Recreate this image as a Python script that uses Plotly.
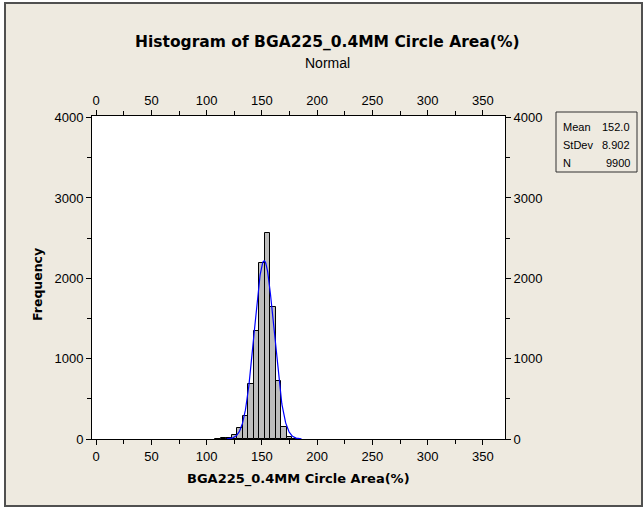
import numpy as np
import plotly.graph_objects as go

# ---- data ----
bin_mids = [110, 115, 120, 125, 130, 135, 140, 145, 150, 155, 160, 165, 170, 175, 180]
counts   = [3, 12, 18, 55, 140, 285, 690, 1340, 2190, 2560, 1645, 720, 145, 25, 3]
bin_width = 5
fit_mean = 152.0
fit_stdev = 8.902
fit_n = 9900
x_ticks = [0, 50, 100, 150, 200, 250, 300, 350]
y_ticks = [0, 1000, 2000, 3000, 4000]

title_text = "Histogram of BGA225_0.4MM Circle Area(%)"
subtitle_text = "Normal"
x_title = "BGA225_0.4MM Circle Area(%)"
y_title = "Frequency"
legend_rows = [("Mean", "152.0"), ("StDev", "8.902"), ("N", "9900")]

# fitted normal curve from the stated parameters
xc = np.linspace(fit_mean - 3.8 * fit_stdev, fit_mean + 3.8 * fit_stdev, 300)
yc = fit_n * bin_width / (fit_stdev * np.sqrt(2 * np.pi)) * np.exp(-0.5 * ((xc - fit_mean) / fit_stdev) ** 2)

W, H = 644, 508
ML, MR, MT, MB = 92, 139, 116, 69
PW, PH = W - ML - MR, H - MT - MB
BG = "#EEEAE0"
FONT = "Liberation Sans, Arial, sans-serif"
BFONT = "DejaVu Sans, Verdana, sans-serif"

def xp(px):
    return (px - ML) / PW

def yp(py):
    return (H - MB - py) / PH

XR = [-3.8, 370]
YR = [0, 4020]

fig = go.Figure()
fig.add_trace(go.Bar(x=bin_mids, y=counts, width=bin_width,
                     marker=dict(color="#BDBDBD", line=dict(color="black", width=1)),
                     hoverinfo="x+y"))
fig.add_trace(go.Scatter(x=xc, y=yc, mode="lines", line=dict(color="#0000FF", width=1.2)))
# invisible trace on the mirrored axes so that they are drawn
fig.add_trace(go.Scatter(x=[XR[0]], y=[YR[0]], xaxis="x2", yaxis="y2", mode="markers",
                         marker=dict(opacity=0), hoverinfo="skip"))

axis_common = dict(showgrid=False, zeroline=False, showline=True, linecolor="black", linewidth=1,
                   ticks="outside", ticklen=5, tickwidth=1, tickcolor="black",
                   tickfont=dict(family=FONT, size=13, color="black"))

fig.update_layout(
    width=W, height=H,
    margin=dict(l=ML, r=MR, t=MT, b=MB, pad=0),
    paper_bgcolor="white", plot_bgcolor="white",
    showlegend=False, bargap=0,
    xaxis=dict(range=XR, tickvals=x_ticks, **axis_common,
               minor=dict(ticks="outside", dtick=25, tick0=0, ticklen=4, tickcolor="black")),
    xaxis2=dict(range=XR, tickvals=x_ticks, overlaying="x", side="top", anchor="y", **axis_common,
                minor=dict(ticks="outside", dtick=25, tick0=0, ticklen=4, tickcolor="black")),
    yaxis=dict(range=YR, tickvals=y_ticks, **axis_common,
               minor=dict(ticks="outside", dtick=500, tick0=0, ticklen=4, tickcolor="black")),
    yaxis2=dict(range=YR, tickvals=y_ticks, overlaying="y", side="right", anchor="x", **axis_common,
                minor=dict(ticks="outside", dtick=500, tick0=0, ticklen=4, tickcolor="black")),
)

shapes = [
    dict(type="rect", xref="paper", yref="paper", x0=xp(5), x1=xp(642), y0=yp(506), y1=yp(3),
         fillcolor=BG, line=dict(color="#505050", width=2), layer="below"),
    dict(type="rect", xref="x domain", yref="y domain", x0=0, x1=1, y0=0, y1=1,
         fillcolor="white", line=dict(width=0), layer="below"),
    dict(type="rect", xref="paper", yref="paper", x0=xp(556), x1=xp(637), y0=yp(172), y1=yp(112),
         fillcolor=BG, line=dict(color="#303030", width=1), layer="above"),
]
fig.update_layout(shapes=shapes)

ann = []
ann.append(dict(text="<b>" + title_text + "</b>", x=xp(327), y=yp(42), xref="paper", yref="paper",
                showarrow=False, xanchor="center", yanchor="middle",
                font=dict(family=BFONT, size=15.5, color="black")))
ann.append(dict(text=subtitle_text, x=xp(327), y=yp(63), xref="paper", yref="paper",
                showarrow=False, xanchor="center", yanchor="middle",
                font=dict(family=FONT, size=14, color="black")))
ann.append(dict(text="<b>" + x_title + "</b>", x=xp(298), y=yp(479), xref="paper", yref="paper",
                showarrow=False, xanchor="center", yanchor="middle",
                font=dict(family=BFONT, size=13, color="black")))
ann.append(dict(text="<b>" + y_title + "</b>", x=xp(37), y=yp(285), xref="paper", yref="paper",
                showarrow=False, xanchor="center", yanchor="middle", textangle=-90,
                font=dict(family=BFONT, size=12.5, color="black")))
row_y = [127, 145, 163]
for (lab, val), ry in zip(legend_rows, row_y):
    ann.append(dict(text=lab, x=xp(561), y=yp(ry), xref="paper", yref="paper", showarrow=False,
                    xanchor="left", yanchor="middle", font=dict(family=FONT, size=11, color="black")))
    ann.append(dict(text=val, x=xp(632), y=yp(ry), xref="paper", yref="paper", showarrow=False,
                    xanchor="right", yanchor="middle", font=dict(family=FONT, size=11, color="black")))
fig.update_layout(annotations=ann)

fig.write_html("out.html", config={"displayModeBar": False},
               post_script="document.body.style.margin='0';document.body.style.overflow='hidden';")
